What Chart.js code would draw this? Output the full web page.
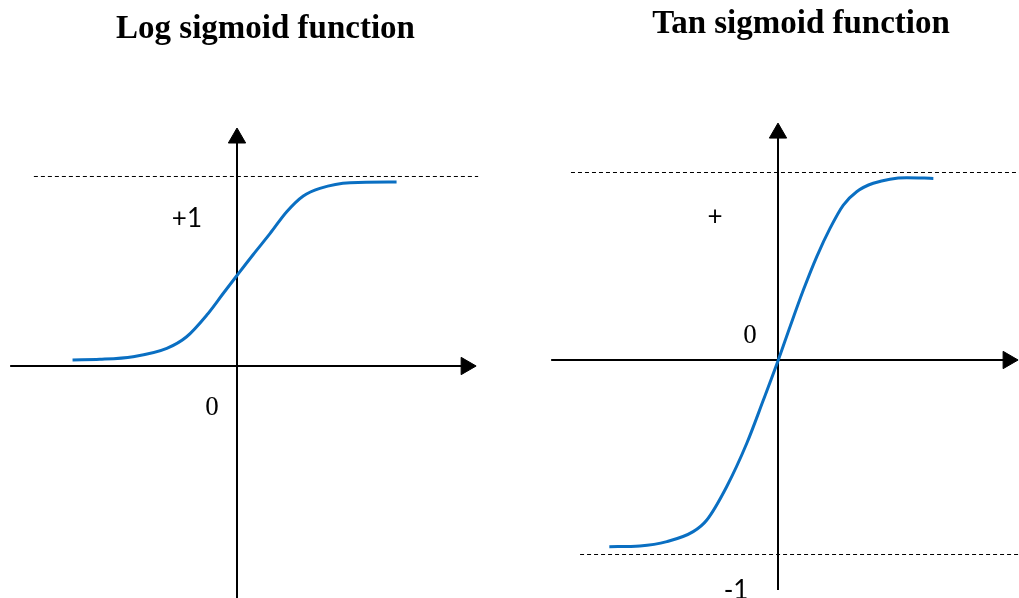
<!DOCTYPE html>
<html>
<head>
<meta charset="utf-8">
<title>Log and Tan sigmoid</title>
<script src="https://cdn.jsdelivr.net/npm/chart.js@4/dist/chart.umd.min.js"></script>
<style>
  html, body { margin: 0; padding: 0; background: #fff; overflow: hidden; }
  #wrap { position: relative; width: 1019px; height: 598px; }
  .panel { position: absolute; top: 0; height: 598px; }
  #panelLog { left: 0; width: 515px; }
  #panelTan { left: 515px; width: 504px; }
</style>
</head>
<body>
<div id="wrap">
  <div class="panel" id="panelLog"><canvas id="log_sigmoid"></canvas></div>
  <div class="panel" id="panelTan"><canvas id="tan_sigmoid"></canvas></div>
</div>
<script>
// curve samples (x = input, y = output)
const logX = [-5.06, -4.22, -3.2, -2.16, -1.55, -0.93, -0.42, 0.01, 0.5, 1.02, 1.53, 2.04, 2.55, 3.48, 4.91];
const logY = [0.032, 0.035, 0.049, 0.093, 0.154, 0.268, 0.383, 0.479, 0.587, 0.698, 0.812, 0.895, 0.935, 0.965, 0.968];

const tanX = [-5.19, -4.25, -3.42, -2.61, -2.19, -1.58, -0.96, -0.45, 0.01, 0.37, 0.78, 1.19, 1.6, 2.01, 2.42, 2.93, 3.96, 4.78];
const tanY = [-0.993, -0.989, -0.966, -0.913, -0.851, -0.674, -0.443, -0.213, 0, 0.177, 0.372, 0.549, 0.7, 0.824, 0.895, 0.94, 0.97, 0.966];

// asymptote levels (dashed) and their x extent
const logLevels = [0.9974];
const logLevelSpan = [-6.25, 7.42];
const tanLevels = [0.9973, -1.0346];
const tanLevelSpan = [[-6.37, 7.42], [-6.09, 7.42]];

// axis extents [from, to]
const logAxisX = [-6.98, 7.05];
const logAxisY = [-1.23, 1.2];
const tanAxisX = [-6.98, 7.08];
const tanAxisY = [-1.223, 1.207];

// text marks
const logLabels = [
  { text: "Log sigmoid function", x: 0.877, y: 1.726, kind: "title" },
  { text: "+1", x: -1.54, y: 0.774, kind: "sans" },
  { text: "0", x: -0.77, y: -0.221, kind: "serif" },
];
const tanLabels = [
  { text: "Tan sigmoid function", x: 0.708, y: 1.738, kind: "title" },
  { text: "+", x: -1.94, y: 0.761, kind: "sans" },
  { text: "0", x: -0.86, y: 0.128, kind: "serif" },
  { text: "-1", x: -1.29, y: -1.228, kind: "sans" },
];

const BLUE = "#0a6fc2";

const labelFonts = {
  title: "bold 33px 'Liberation Serif', serif",
  sans: "26px Lato, 'Liberation Sans', sans-serif",
  serif: "27px 'Liberation Serif', serif",
};

// writes the titles and axis labels at data positions
const plugin_textos = {
  id: "textos",
  afterDatasetsDraw: (chart, args, opts) => {
    const ctx = chart.ctx;
    const sx = chart.scales.x;
    const sy = chart.scales.y;
    ctx.save();
    ctx.fillStyle = "#000";
    ctx.textAlign = "center";
    (opts.labels || []).forEach((lab) => {
      ctx.font = labelFonts[lab.kind];
      // titles sit on a baseline, the rest are centred
      ctx.textBaseline = lab.kind == "title" ? "alphabetic" : "middle";
      ctx.fillText(lab.text, sx.getPixelForValue(lab.x), sy.getPixelForValue(lab.y));
    });
    ctx.restore();
  },
};

function axisSet(xs, ys, horizontal) {
  return {
    data: xs.map((x, i) => ({ x: x, y: ys[i] })),
    borderColor: "#000",
    borderWidth: 2,
    pointStyle: "triangle",
    rotation: horizontal ? 90 : 0,
    pointRadius: [0, 10],
    pointBackgroundColor: "#000",
    pointBorderColor: "#000",
    pointBorderWidth: 1,
    order: 2,
  };
}

function levelSet(y, span) {
  return {
    data: span.map((x) => ({ x: x, y: y })),
    borderColor: "#000",
    borderWidth: 1,
    borderDash: [4, 3],
    pointRadius: 0,
    order: 3,
  };
}

function curveSet(xs, ys) {
  return {
    data: xs.map((x, i) => ({ x: x, y: ys[i] })),
    borderColor: BLUE,
    borderWidth: 3,
    cubicInterpolationMode: "monotone",
    pointRadius: 0,
    order: 1,
  };
}

function makeChart(id, datasets, labels, xr, yr) {
  return new Chart(document.getElementById(id).getContext("2d"), {
    type: "line",
    data: { datasets: datasets },
    options: {
      responsive: true,
      maintainAspectRatio: false,
      animation: false,
      layout: { padding: 0, autoPadding: false },
      plugins: {
        legend: { display: false },
        title: { display: false },
        tooltip: { enabled: false },
        textos: { labels: labels },
      },
      scales: {
        x: { type: "linear", min: xr[0], max: xr[1], display: false },
        y: { type: "linear", min: yr[0], max: yr[1], display: false },
      },
    },
    plugins: [plugin_textos],
  });
}

// left: origin at px (237, 366), 32.5 px per x unit, 190 px per y unit
const chart_log = makeChart(
  "log_sigmoid",
  [
    curveSet(logX, logY),
    axisSet(logAxisX, [0, 0], true),
    axisSet([0, 0], logAxisY, false),
    ...logLevels.map((y) => levelSet(y, logLevelSpan)),
  ],
  logLabels,
  [-237 / 32.5, (515 - 237) / 32.5],
  [-(598 - 366) / 190, 366 / 190]
);

// right: origin at px (263, 360) inside its panel, 32.5 px per x unit, 188 px per y unit
const chart_tan = makeChart(
  "tan_sigmoid",
  [
    curveSet(tanX, tanY),
    axisSet(tanAxisX, [0, 0], true),
    axisSet([0, 0], tanAxisY, false),
    ...tanLevels.map((y, i) => levelSet(y, tanLevelSpan[i])),
  ],
  tanLabels,
  [-263 / 32.5, (504 - 263) / 32.5],
  [-(598 - 360) / 188, 360 / 188]
);
</script>
</body>
</html>
